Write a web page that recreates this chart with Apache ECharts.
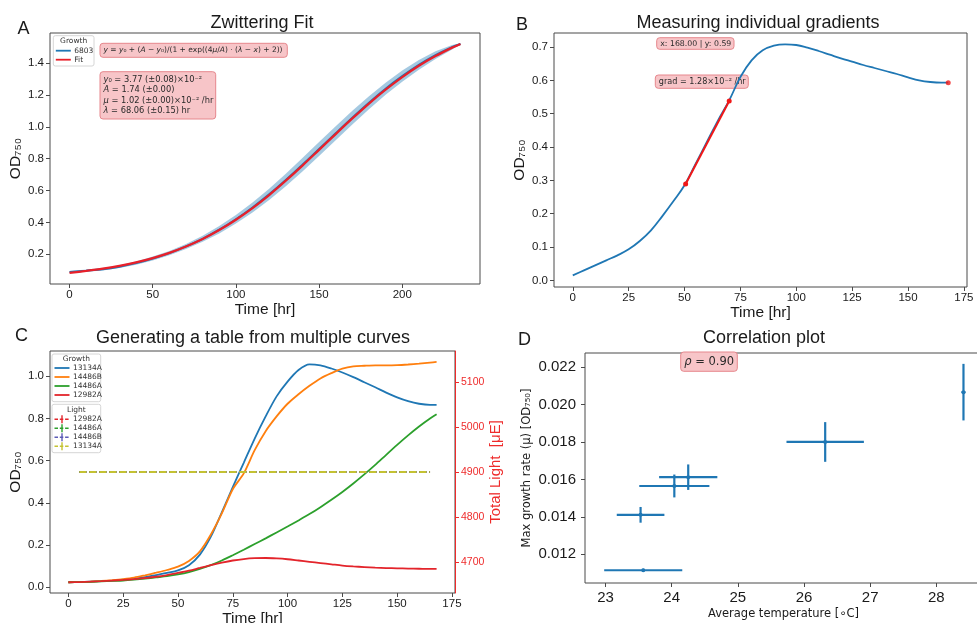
<!DOCTYPE html>
<html>
<head>
<meta charset="utf-8">
<title>Growth curve analysis</title>
<script src="https://cdn.jsdelivr.net/npm/echarts@6.0.0/dist/echarts.min.js"></script>
<style>
    html, body { margin: 0; padding: 0; background: #fff; }
    #main { width: 977px; height: 623px; }
</style>
</head>
<body>
<div id="main"></div>
<script>
// ---- A : Zwittering fit ----
var aTime = [0, 10, 20, 30, 40, 50, 60, 70, 80, 90, 100, 110, 120, 130, 140, 150, 160, 170, 180, 190, 200, 210, 220, 230, 235];
var a6803 = [0.089, 0.097, 0.106, 0.122, 0.144, 0.173, 0.207, 0.249, 0.297, 0.354, 0.420, 0.494, 0.576, 0.666, 0.762, 0.861, 0.960, 1.058, 1.152, 1.240, 1.319, 1.390, 1.451, 1.501, 1.521];
var a6803Std = [0.006, 0.007, 0.008, 0.009, 0.010, 0.012, 0.014, 0.016, 0.019, 0.023, 0.027, 0.031, 0.035, 0.039, 0.042, 0.044, 0.044, 0.043, 0.041, 0.038, 0.035, 0.031, 0.025, 0.014, 0.004];
var aFit = [0.083, 0.095, 0.109, 0.127, 0.149, 0.176, 0.209, 0.249, 0.296, 0.352, 0.417, 0.490, 0.572, 0.662, 0.757, 0.856, 0.955, 1.053, 1.147, 1.234, 1.313, 1.384, 1.445, 1.498, 1.521];
var aTicksX = [0, 50, 100, 150, 200];
var aTicksY = [0.2, 0.4, 0.6, 0.8, 1.0, 1.2, 1.4];

// ---- B : individual gradients ----
var bTime = [0, 5, 10, 15, 20, 25, 30, 35, 40, 45, 50, 55, 60, 65, 70, 75, 80, 85, 90, 95, 100, 105, 110, 115, 120, 125, 130, 135, 140, 145, 150, 155, 160, 165, 168];
var bOD = [0.015, 0.030, 0.045, 0.060, 0.075, 0.093, 0.118, 0.150, 0.192, 0.237, 0.285, 0.350, 0.415, 0.480, 0.540, 0.610, 0.660, 0.690, 0.704, 0.708, 0.706, 0.698, 0.688, 0.677, 0.666, 0.656, 0.646, 0.637, 0.628, 0.619, 0.609, 0.600, 0.595, 0.593, 0.593];
var bGradTime = [50.5, 70];
var bGradOD = [0.289, 0.538];
var bPickTime = [168];
var bPickOD = [0.593];
var bTicksX = [0, 25, 50, 75, 100, 125, 150, 175];
var bTicksY = [0, 0.1, 0.2, 0.3, 0.4, 0.5, 0.6, 0.7];

// ---- C : table from multiple curves ----
var cTime = [0, 5, 10, 15, 20, 25, 30, 35, 40, 45, 50, 55, 60, 65, 70, 75, 80, 85, 90, 95, 100, 105, 110, 115, 120, 125, 130, 135, 140, 145, 150, 155, 160, 165, 168];
var c13134A = [0.024, 0.025, 0.027, 0.029, 0.032, 0.036, 0.040, 0.048, 0.058, 0.068, 0.080, 0.105, 0.155, 0.240, 0.355, 0.475, 0.590, 0.705, 0.810, 0.905, 0.975, 1.030, 1.057, 1.052, 1.037, 1.018, 0.996, 0.972, 0.948, 0.923, 0.900, 0.882, 0.870, 0.865, 0.865];
var c14486B = [0.024, 0.025, 0.027, 0.030, 0.034, 0.039, 0.046, 0.057, 0.069, 0.082, 0.098, 0.125, 0.170, 0.250, 0.350, 0.465, 0.540, 0.650, 0.740, 0.810, 0.870, 0.915, 0.955, 0.990, 1.015, 1.036, 1.047, 1.050, 1.052, 1.052, 1.053, 1.056, 1.060, 1.065, 1.068];
var c14486A = [0.024, 0.025, 0.026, 0.028, 0.030, 0.032, 0.036, 0.041, 0.047, 0.053, 0.061, 0.072, 0.087, 0.105, 0.127, 0.152, 0.178, 0.205, 0.232, 0.260, 0.288, 0.317, 0.347, 0.380, 0.415, 0.452, 0.492, 0.535, 0.580, 0.628, 0.675, 0.720, 0.762, 0.800, 0.820];
var c12982A = [0.024, 0.025, 0.027, 0.029, 0.032, 0.035, 0.039, 0.044, 0.050, 0.058, 0.068, 0.079, 0.092, 0.105, 0.117, 0.127, 0.134, 0.138, 0.139, 0.137, 0.133, 0.127, 0.121, 0.115, 0.109, 0.103, 0.099, 0.096, 0.093, 0.091, 0.090, 0.089, 0.088, 0.087, 0.087];
var lightTime = [5, 25, 45, 65, 85, 105, 125, 145, 165];
var light12982A = [4900, 4900, 4900, 4900, 4900, 4900, 4900, 4900, 4900];
var light14486A = [4900, 4900, 4900, 4900, 4900, 4900, 4900, 4900, 4900];
var light14486B = [4900, 4900, 4900, 4900, 4900, 4900, 4900, 4900, 4900];
var light13134A = [4900, 4900, 4900, 4900, 4900, 4900, 4900, 4900, 4900];
var cTicksX = [0, 25, 50, 75, 100, 125, 150, 175];
var cTicksY = [0, 0.2, 0.4, 0.6, 0.8, 1.0];
var cTicksLight = [4700, 4800, 4900, 5000, 5100];

// ---- D : correlation plot ----
var dTemp = [23.57, 23.53, 24.04, 24.25, 26.32, 28.41];
var dTempErr = [0.59, 0.36, 0.53, 0.44, 0.585, 0.03];
var dRate = [0.01115, 0.01411, 0.01565, 0.01612, 0.0180, 0.02066];
var dRateErr = [0.00008, 0.00042, 0.00061, 0.00068, 0.00106, 0.00151];
var dTicksX = [23, 24, 25, 26, 27, 28];
var dTicksY = [0.012, 0.014, 0.016, 0.018, 0.020, 0.022];

var FONT = '"Liberation Sans", Arial, Helvetica, sans-serif';
var MATH = '"DejaVu Sans", sans-serif';
var INK = '#1a1a1a';
var SPINE = '#4a4a4a';
var LIGHT_RED = '#ee2b2b';

var pairs = function (xs, ys) {
    var out = [];
    for (var i = 0; i < xs.length; i++) {
        out.push([xs[i], ys[i]]);
    }
    return out;
};

var fix = function (n) {
    return function (v) { return v.toFixed(n); };
};

var makeAxis = function (o) {
    return {
        type: 'value',
        gridIndex: o.grid,
        position: o.position,
        min: o.min,
        max: o.max,
        name: o.name,
        nameLocation: 'middle',
        nameGap: o.nameGap,
        nameRotate: o.nameRotate,
        nameTextStyle: {
            fontFamily: o.nameFont || FONT,
            fontSize: o.nameSize || 15.5,
            color: o.nameColor || INK
        },
        axisLine: {show: !!o.lineColor, onZero: false, lineStyle: {color: o.lineColor, width: 1}},
        axisTick: {show: true, inside: false, length: 4, customValues: o.ticks,
            lineStyle: {color: o.tickColor || SPINE, width: 1}},
        axisLabel: {show: true, customValues: o.ticks, margin: o.margin, fontFamily: FONT,
            fontSize: o.labelSize || 11.5, color: o.labelColor || INK, formatter: o.fmt},
        splitLine: {show: false}
    };
};

var gridBox = function (left, top, width, height) {
    return {left: left, top: top, width: width, height: height, show: true,
        borderColor: SPINE, borderWidth: 1, backgroundColor: 'transparent',
        containLabel: false, outerBoundsMode: 'none'};
};

var plainText = function (x, y, text, font, align, color) {
    return {type: 'text', x: x, y: y, z: 100,
        style: {text: text, font: font, fill: color || INK, align: align || 'center', verticalAlign: 'middle'}};
};

var noteBox = function (x, y, w, h, text, size, rich, lineHeight) {
    return {type: 'group', z: 100, children: [
        {type: 'rect', shape: {x: x, y: y, width: w, height: h, r: 3},
            style: {fill: '#f7c5c8', stroke: '#e6878d', lineWidth: 1}},
        {type: 'text', x: x + 3.5, y: y + h / 2,
            style: {text: text, fontFamily: MATH, fontSize: size, fill: '#2a2a2a',
                verticalAlign: 'middle', align: 'left', lineHeight: lineHeight || size + 2, rich: rich || {}}}
    ]};
};

var legendBox = function (x, y, w, h, title, titleY, rowTop, rows) {
    var kids = [
        {type: 'rect', shape: {x: x, y: y, width: w, height: h, r: 2},
            style: {fill: 'rgba(255,255,255,0.85)', stroke: '#d6d6d6', lineWidth: 1}},
        {type: 'text', x: x + w / 2, y: titleY,
            style: {text: title, font: '7.5px ' + MATH, fill: '#333', align: 'center', verticalAlign: 'middle'}}
    ];
    for (var i = 0; i < rows.length; i++) {
        var cy = rowTop + i * 9;
        var r = rows[i];
        if (r.dashed) {
            kids.push({type: 'line', shape: {x1: x + 2.5, y1: cy, x2: x + 17.5, y2: cy},
                style: {stroke: r.color, lineWidth: 1.6, lineDash: [3.5, 1.8]}});
            kids.push({type: 'line', shape: {x1: x + 10, y1: cy - 4, x2: x + 10, y2: cy + 4},
                style: {stroke: r.color, lineWidth: 1.4}});
        } else {
            kids.push({type: 'line', shape: {x1: x + 2.5, y1: cy, x2: x + 17.5, y2: cy},
                style: {stroke: r.color, lineWidth: 1.8}});
        }
        kids.push({type: 'text', x: x + 21, y: cy,
            style: {text: r.label, font: '7.5px ' + MATH, fill: '#333', align: 'left', verticalAlign: 'middle'}});
    }
    return {type: 'group', z: 100, children: kids};
};

var lineSeries = function (name, xi, yi, xs, ys, color, width, extra) {
    var s = {
        name: name, type: 'line', xAxisIndex: xi, yAxisIndex: yi,
        data: pairs(xs, ys), showSymbol: false, symbol: 'none', smooth: 0.3,
        lineStyle: {color: color, width: width}, itemStyle: {color: color}, z: 3
    };
    for (var k in extra) {
        s[k] = extra[k];
    }
    return s;
};

var initChart = function () {
    var chart = echarts.init(document.getElementById('main'), null, {renderer: 'canvas'});
    var italic = function (size) {
        return {i: {fontStyle: 'italic', fontFamily: MATH, fontSize: size}};
    };

    var option = {
        animation: false,
        backgroundColor: '#ffffff',
        grid: [
            gridBox(50, 33, 430, 251),
            gridBox(554, 33, 413, 254),
            gridBox(50, 351, 405, 242),
            gridBox(585, 353, 397, 230)
        ],
        xAxis: [
            makeAxis({grid: 0, min: -11.75, max: 246.75, ticks: aTicksX, fmt: String, margin: 5,
                name: 'Time [hr]', nameGap: 15}),
            makeAxis({grid: 1, min: -8.4, max: 176.4, ticks: bTicksX, fmt: String, margin: 5,
                name: 'Time [hr]', nameGap: 16}),
            makeAxis({grid: 2, min: -8.4, max: 176.4, ticks: cTicksX, fmt: String, margin: 5,
                name: 'Time [hr]', nameGap: 14}),
            makeAxis({grid: 3, min: 22.69, max: 28.69, ticks: dTicksX, fmt: String, margin: 7,
                labelSize: 15, name: 'Average temperature [\u2218C]', nameGap: 25,
                nameFont: MATH, nameSize: 11.5})
        ],
        yAxis: [
            makeAxis({grid: 0, min: 0.013, max: 1.59, ticks: aTicksY, fmt: fix(1), margin: 6,
                name: 'OD\u2087\u2085\u2080', nameGap: 21.5, nameRotate: 90}),
            makeAxis({grid: 1, min: -0.02, max: 0.742, ticks: bTicksY, fmt: fix(1), margin: 6,
                name: 'OD\u2087\u2085\u2080', nameGap: 22, nameRotate: 90}),
            makeAxis({grid: 2, min: -0.027, max: 1.12, ticks: cTicksY, fmt: fix(1), margin: 6,
                name: 'OD\u2087\u2085\u2080', nameGap: 20, nameRotate: 90}),
            makeAxis({grid: 3, min: 0.01047, max: 0.02275, ticks: dTicksY, fmt: fix(3), margin: 9,
                labelSize: 15, name: 'Max growth rate (\u03bc) [OD\u2087\u2085\u2080]', nameGap: 52,
                nameRotate: 90, nameFont: MATH, nameSize: 11.5}),
            makeAxis({grid: 2, position: 'right', min: 4631, max: 5169, ticks: cTicksLight, fmt: String,
                margin: 6, labelSize: 10.5, labelColor: LIGHT_RED, tickColor: LIGHT_RED,
                lineColor: LIGHT_RED, name: 'Total Light  [\u03bcE]', nameGap: 31, nameRotate: 90,
                nameColor: LIGHT_RED, nameSize: 15})
        ],
        series: [
            // A
            {
                name: '6803 spread', type: 'custom', xAxisIndex: 0, yAxisIndex: 0, z: 1,
                data: [[aTime[0], a6803[0]]], encode: {x: 0, y: 1},
                renderItem: function (params, api) {
                    if (params.dataIndex !== 0) {
                        return;
                    }
                    var up = [];
                    var lo = [];
                    for (var i = 0; i < aTime.length; i++) {
                        up.push(api.coord([aTime[i], a6803[i] + a6803Std[i]]));
                        lo.unshift(api.coord([aTime[i], a6803[i] - a6803Std[i]]));
                    }
                    return {type: 'polygon', shape: {points: up.concat(lo)},
                        style: {fill: 'rgba(31,119,180,0.4)'}};
                }
            },
            lineSeries('6803', 0, 0, aTime, a6803, '#1f77b4', 2),
            lineSeries('Fit', 0, 0, aTime, aFit, '#e8202a', 2.3, {z: 4}),
            // B
            lineSeries('OD', 1, 1, bTime, bOD, '#1f77b4', 1.8, {smooth: 0.4}),
            lineSeries('gradient', 1, 1, bGradTime, bGradOD, '#f01818', 2,
                {showSymbol: true, symbol: 'circle', symbolSize: 5, smooth: false, z: 4}),
            {
                name: 'picked', type: 'scatter', xAxisIndex: 1, yAxisIndex: 1, z: 5,
                data: pairs(bPickTime, bPickOD), symbolSize: 5, itemStyle: {color: '#f01818'}
            },
            // C growth
            lineSeries('13134A', 2, 2, cTime, c13134A, '#1f77b4', 1.8),
            lineSeries('14486B', 2, 2, cTime, c14486B, '#ff7f0e', 1.8),
            lineSeries('14486A', 2, 2, cTime, c14486A, '#2ca02c', 1.8),
            lineSeries('12982A', 2, 2, cTime, c12982A, '#e3242b', 1.8),
            // C light
            lineSeries('Light 12982A', 2, 4, lightTime, light12982A, '#e3242b', 2,
                {smooth: false, lineStyle: {color: '#e3242b', width: 2, type: [7, 3]}}),
            lineSeries('Light 14486A', 2, 4, lightTime, light14486A, '#2ca02c', 2,
                {smooth: false, lineStyle: {color: '#2ca02c', width: 2, type: [7, 3]}}),
            lineSeries('Light 14486B', 2, 4, lightTime, light14486B, '#5b5bb5', 2,
                {smooth: false, lineStyle: {color: '#5b5bb5', width: 2, type: [7, 3]}}),
            lineSeries('Light 13134A', 2, 4, lightTime, light13134A, '#c4c232', 2,
                {smooth: false, lineStyle: {color: '#c4c232', width: 2.2, type: [7, 3]}}),
            // D
            {
                name: 'growth vs temperature', type: 'custom', xAxisIndex: 3, yAxisIndex: 3, z: 3,
                clip: false,
                data: dTemp.map(function (t, i) { return [t, dRate[i], dTempErr[i], dRateErr[i]]; }),
                encode: {x: 0, y: 1},
                renderItem: function (params, api) {
                    var x = api.value(0);
                    var y = api.value(1);
                    var xe = api.value(2);
                    var ye = api.value(3);
                    var l = api.coord([x - xe, y]);
                    var r = api.coord([x + xe, y]);
                    var t = api.coord([x, y + ye]);
                    var b = api.coord([x, y - ye]);
                    var c = api.coord([x, y]);
                    var st = {stroke: '#1f77b4', lineWidth: 2.2};
                    return {type: 'group', children: [
                        {type: 'line', shape: {x1: l[0], y1: l[1], x2: r[0], y2: r[1]}, style: st},
                        {type: 'line', shape: {x1: t[0], y1: t[1], x2: b[0], y2: b[1]}, style: st},
                        {type: 'circle', shape: {cx: c[0], cy: c[1], r: 2}, style: {fill: '#1f77b4'}}
                    ]};
                }
            }
        ],
        graphic: [
            // panel letters and titles
            plainText(23.5, 29.5, 'A', '18px ' + FONT),
            plainText(262, 23, 'Zwittering Fit', '18px ' + FONT),
            plainText(522, 25, 'B', '18px ' + FONT),
            plainText(758, 23, 'Measuring individual gradients', '18px ' + FONT),
            plainText(21.5, 336.5, 'C', '18px ' + FONT),
            plainText(253, 338.5, 'Generating a table from multiple curves', '18px ' + FONT),
            plainText(524.5, 340, 'D', '18px ' + FONT),
            plainText(764, 338.5, 'Correlation plot', '18px ' + FONT),
            // legends
            legendBox(53.3, 35.7, 40.7, 30.3, 'Growth', 41, 50.7, [
                {label: '6803', color: '#1f77b4'},
                {label: 'Fit', color: '#e8202a'}
            ]),
            legendBox(52, 354, 48.7, 47.7, 'Growth', 359, 368, [
                {label: '13134A', color: '#1f77b4'},
                {label: '14486B', color: '#ff7f0e'},
                {label: '14486A', color: '#2ca02c'},
                {label: '12982A', color: '#e3242b'}
            ]),
            legendBox(52, 404.3, 48.7, 48.4, 'Light', 410, 419.3, [
                {label: '12982A', color: '#e3242b', dashed: true},
                {label: '14486A', color: '#2ca02c', dashed: true},
                {label: '14486B', color: '#5b5bb5', dashed: true},
                {label: '13134A', color: '#c4c232', dashed: true}
            ]),
            // annotation boxes
            noteBox(100, 43.3, 187.3, 14,
                '{i|y} = {i|y}\u2080 + ({i|A} \u2212 {i|y}\u2080)/(1 + exp((4{i|\u03bc}/{i|A}) \u00b7 ({i|\u03bb} \u2212 {i|x}) + 2))',
                7.5, italic(7.5)),
            noteBox(100, 71.7, 115.7, 47.3,
                '{i|y}\u2080 = 3.77 (\u00b10.08)\u00d710\u207b\u00b2\n{i|A} = 1.74 (\u00b10.00)\n{i|\u03bc} = 1.02 (\u00b10.00)\u00d710\u207b\u00b2 /hr\n{i|\u03bb} = 68.06 (\u00b10.15) hr',
                8.3, italic(8.3), 10.6),
            noteBox(656.7, 37.7, 77.3, 11.6, 'x: 168.00 | y: 0.59', 7.8),
            noteBox(655.3, 75, 93, 13.3, 'grad = 1.28\u00d710\u207b\u00b2 /hr', 8.1),
            noteBox(680.7, 352, 56.6, 19.3, '{i|\u03c1} = 0.90', 11.5, italic(11.5))
        ]
    };
    chart.setOption(option);
};

initChart();
</script>
</body>
</html>
